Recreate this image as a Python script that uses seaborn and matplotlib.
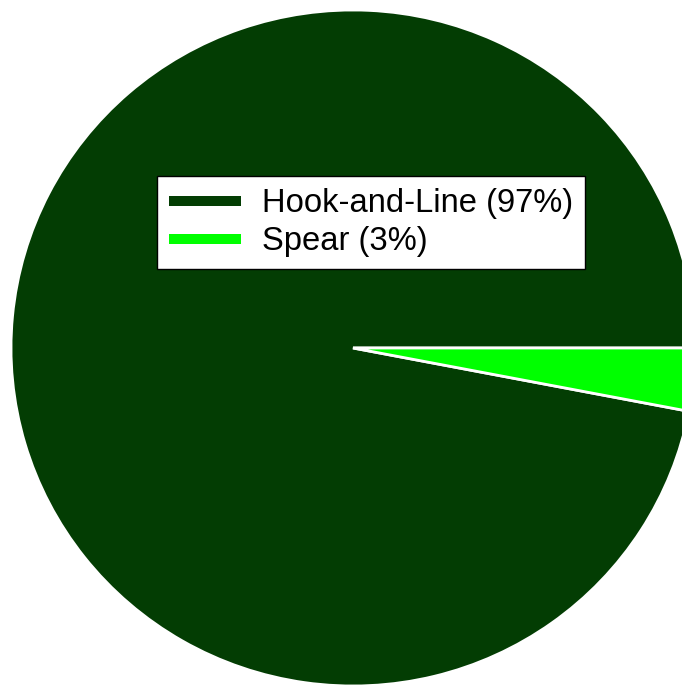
import matplotlib
matplotlib.use("Agg")
import matplotlib.pyplot as plt
from matplotlib.lines import Line2D
import seaborn as sns

gear_types = ["Hook-and-Line", "Spear"]
share_pct = [97, 3]
gear_colors = ["#033d03", "#00ff00"]

sns.set_theme(style="white")
plt.rcParams["font.family"] = ["Liberation Sans", "DejaVu Sans"]

fig = plt.figure(figsize=(6.82, 6.87), dpi=100)
ax = fig.add_axes([0, 0, 1, 1])

palette = sns.color_palette(gear_colors)
ax.pie(share_pct, colors=palette, startangle=0, counterclock=True,
       wedgeprops=dict(edgecolor="white", linewidth=2))

# place the circle so it runs off the right edge (slightly wider than tall)
rx_px, ry_px = 342, 338
cx, cy_top = 353, 348
ax.set_aspect("auto")
ax.set_xlim(-cx / rx_px, (682 - cx) / rx_px)
ax.set_ylim(-(687 - cy_top) / ry_px, cy_top / ry_px)
ax.axis("off")

handles = [Line2D([0], [0], color=c, linewidth=7.2, solid_capstyle="butt")
           for c in palette]
labels = [f"{g} ({p}%)" for g, p in zip(gear_types, share_pct)]
leg = fig.legend(handles, labels, loc="upper left",
                 bbox_to_anchor=(157 / 682, 1 - 176 / 687),
                 fontsize=23.6, frameon=True, fancybox=False, framealpha=1,
                 edgecolor="black", handlelength=2.17, handletextpad=0.64,
                 borderpad=0.38, labelspacing=0.2, borderaxespad=0)
leg.get_frame().set_linewidth(1)
for t in leg.get_texts():
    t.set_color("black")

fig.savefig("out.png", dpi=100)
